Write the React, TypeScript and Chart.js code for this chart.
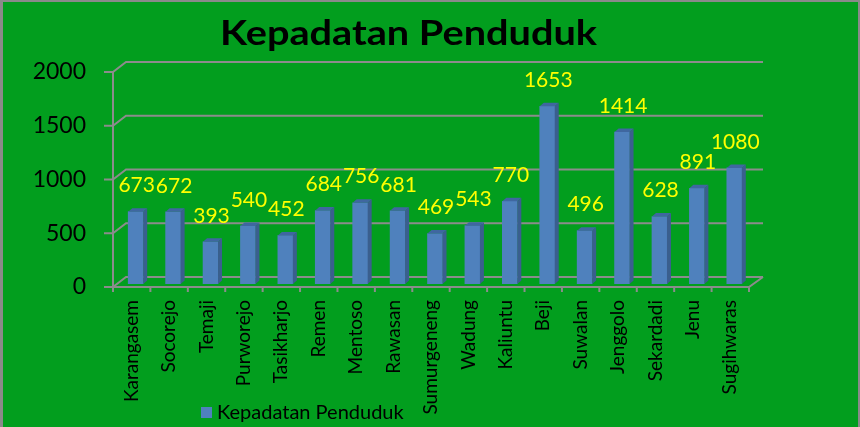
import React, { useEffect, useRef } from "react";
import { Chart, registerables } from "chart.js";

Chart.register(...registerables);

const categories = [
  "Karangasem", "Socorejo", "Temaji", "Purworejo", "Tasikharjo", "Remen", "Mentoso", "Rawasan",
  "Sumurgeneng", "Wadung", "Kaliuntu", "Beji", "Suwalan", "Jenggolo", "Sekardadi", "Jenu", "Sugihwaras",
];
const values = [673, 672, 393, 540, 452, 684, 756, 681, 469, 543, 770, 1653, 496, 1414, 628, 891, 1080];
const yTicks = [0, 500, 1000, 1500, 2000];
const seriesName = "Kepadatan Penduduk";
const titleText = "Kepadatan Penduduk";

const GREEN = "rgb(2,158,30)";
const GRID = "#8c8c8c";
const FRONT = "#4F81BD";
const SIDE = "#3A5F8E";
const TOP = "#3F67A0";
const DEPTH_X = 13; // back wall offset
const DEPTH_Y = -10;
const BAR_X = 4; // bar plane offset
const BAR_Y = -3;
const BAR_DX = 4; // bar depth
const BAR_DY = -3.5;
const FONT = "Lato, 'Open Sans', sans-serif";

const decor = {
  id: "decor",
  beforeDraw(chart: any) {
    const { ctx, width, height } = chart;
    ctx.save();
    ctx.fillStyle = "#8a8a8a";
    ctx.fillRect(0, 0, width, height);
    ctx.fillStyle = GREEN;
    ctx.fillRect(3, 2, width - 5, height - 2);
    // title (stretched horizontally to the reference width)
    ctx.fillStyle = "#000";
    ctx.font = `bold 34px ${FONT}`;
    ctx.textAlign = "left";
    ctx.textBaseline = "alphabetic";
    const tw = ctx.measureText(titleText).width;
    const target = 377;
    ctx.save();
    ctx.translate(220, 45);
    ctx.scale(target / tw, 1);
    ctx.fillText(titleText, 0, 0);
    ctx.restore();
    // legend
    ctx.fillStyle = FRONT;
    ctx.fillRect(201, 407, 11, 11);
    ctx.fillStyle = "#000";
    ctx.font = `20px ${FONT}`;
    ctx.textAlign = "left";
    ctx.textBaseline = "middle";
    ctx.fillText(seriesName, 217, 413);
    ctx.restore();
  },
  beforeDatasetsDraw(chart: any) {
    const { ctx, chartArea } = chart;
    const y = chart.scales.y;
    const L = chartArea.left, R = chartArea.right;
    ctx.save();
    ctx.strokeStyle = GRID;
    ctx.lineWidth = 2;
    ctx.beginPath();
    for (const v of yTicks) {
      const py = y.getPixelForValue(v);
      ctx.moveTo(L - 9, py);
      ctx.lineTo(L, py);
      ctx.moveTo(L, py);
      ctx.lineTo(L + DEPTH_X, py + DEPTH_Y);
      ctx.lineTo(R + DEPTH_X + 1, py + DEPTH_Y);
    }
    const by = y.getPixelForValue(0);
    ctx.moveTo(L, y.getPixelForValue(2000));
    ctx.lineTo(L, by + 5);
    ctx.moveTo(L, by);
    ctx.lineTo(R, by);
    ctx.lineTo(R + DEPTH_X + 1, by + DEPTH_Y);
    const n = categories.length;
    for (let i = 0; i <= n; i++) {
      const px = L + ((R - L) * i) / n;
      ctx.moveTo(px, by);
      ctx.lineTo(px, by + 5);
    }
    ctx.stroke();
    ctx.restore();
    ctx.save();
    ctx.translate(BAR_X, BAR_Y);
  },
  afterDatasetsDraw(chart: any) {
    const { ctx } = chart;
    const meta = chart.getDatasetMeta(0);
    meta.data.forEach((bar: any) => {
      const p = bar.getProps(["x", "y", "base", "width"], true);
      const x0 = p.x - p.width / 2;
      const x1 = p.x + p.width / 2;
      ctx.fillStyle = SIDE;
      ctx.beginPath();
      ctx.moveTo(x1, p.y);
      ctx.lineTo(x1 + BAR_DX, p.y + BAR_DY);
      ctx.lineTo(x1 + BAR_DX, p.base + BAR_DY);
      ctx.lineTo(x1, p.base);
      ctx.closePath();
      ctx.fill();
      ctx.fillStyle = TOP;
      ctx.beginPath();
      ctx.moveTo(x0, p.y);
      ctx.lineTo(x1, p.y);
      ctx.lineTo(x1 + BAR_DX, p.y + BAR_DY);
      ctx.lineTo(x0 + BAR_DX, p.y + BAR_DY);
      ctx.closePath();
      ctx.fill();
    });
    ctx.restore();
    ctx.save();
    ctx.fillStyle = "#ffff00";
    ctx.font = `21px ${FONT}`;
    ctx.textAlign = "center";
    ctx.textBaseline = "middle";
    meta.data.forEach((bar: any, i: number) => {
      const p = bar.getProps(["x", "y"], true);
      ctx.fillText(String(values[i]), p.x + BAR_X + 1, p.y + BAR_Y - 26);
    });
    ctx.restore();
  },
};

export default function App() {
  const ref = useRef<HTMLCanvasElement | null>(null);
  useEffect(() => {
    if (!ref.current) return;
    const chart = new Chart(ref.current, {
      type: "bar",
      data: {
        labels: categories,
        datasets: [
          {
            label: seriesName,
            data: values,
            backgroundColor: FRONT,
            barThickness: 15,
          },
        ],
      },
      options: {
        responsive: false,
        animation: false,
        devicePixelRatio: 1,
        layout: { padding: { top: 72, right: 111, bottom: 0, left: 0 } },
        plugins: { legend: { display: false }, title: { display: false }, tooltip: { enabled: false } },
        scales: {
          x: {
            grid: { display: false, drawTicks: false },
            border: { display: false },
            ticks: {
              minRotation: 90,
              maxRotation: 90,
              autoSkip: false,
              padding: 13,
              color: "#000",
              font: { family: FONT, size: 19 },
            },
            afterFit(scale: any) {
              scale.height = 140;
            },
          },
          y: {
            min: 0,
            max: 2000,
            grid: { display: false, drawTicks: false },
            border: { display: false },
            ticks: {
              stepSize: 500,
              padding: 27,
              color: "#000",
              font: { family: FONT, size: 23 },
              callback: (v: any) => String(v),
            },
            afterFit(scale: any) {
              scale.width = 113;
            },
          },
        },
      },
      plugins: [decor],
    });
    return () => chart.destroy();
  }, []);
  return (
    <div style={{ position: "absolute", left: 0, top: 0, width: 860, height: 427 }}>
      <canvas ref={ref} width={860} height={427} style={{ display: "block" }} />
    </div>
  );
}
